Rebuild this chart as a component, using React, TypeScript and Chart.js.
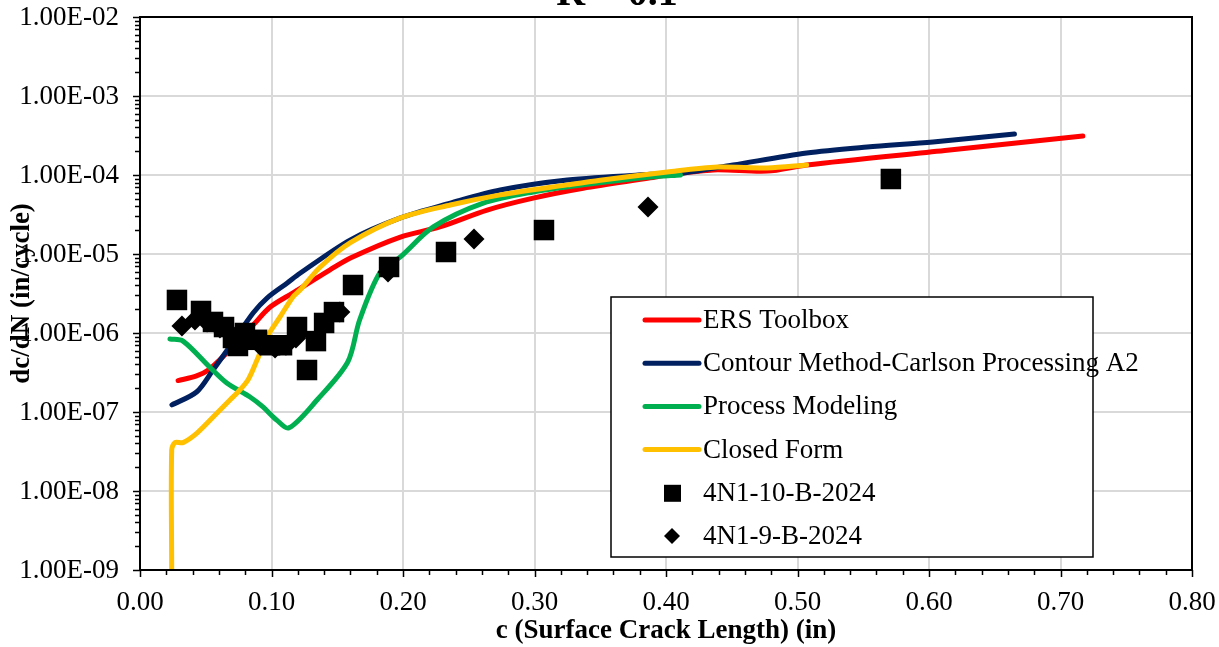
import React, { useEffect, useRef } from "react";
import { Chart, registerables } from "chart.js";

Chart.register(...registerables);

// ERS Toolbox prediction
const ersC = [0.029, 0.043, 0.052, 0.066, 0.086, 0.099, 0.116, 0.1445, 0.16, 0.198, 0.228, 0.264, 0.299, 0.337, 0.388, 0.401, 0.436, 0.477, 0.507, 0.612, 0.717];
const ersRate = [2.5e-7, 2.86e-7, 3.4e-7, 5.6e-7, 1.26e-6, 2.13e-6, 3.2e-6, 6.3e-6, 8.9e-6, 1.64e-5, 2.2e-5, 3.6e-5, 5.1e-5, 6.8e-5, 9.2e-5, 1.0e-4, 1.16e-4, 1.12e-4, 1.34e-4, 2.04e-4, 3.12e-4];

// Contour Method-Carlson Processing A2 prediction
const contourC = [0.0243, 0.043, 0.0555, 0.068, 0.086, 0.0966, 0.112, 0.1217, 0.1597, 0.198, 0.236, 0.274, 0.325, 0.388, 0.411, 0.451, 0.507, 0.553, 0.603, 0.665];
const contourRate = [1.23e-7, 1.79e-7, 3.4e-7, 6.65e-7, 1.79e-6, 2.77e-6, 4.3e-6, 5.7e-6, 1.5e-5, 2.86e-5, 4.4e-5, 6.46e-5, 8.65e-5, 1.02e-4, 1.05e-4, 1.34e-4, 1.9e-4, 2.26e-4, 2.62e-4, 3.3e-4];

// Process Modeling prediction
const processC = [0.0228, 0.0327, 0.053, 0.066, 0.0837, 0.0935, 0.104, 0.1133, 0.1346, 0.158, 0.167, 0.1825, 0.198, 0.223, 0.261, 0.299, 0.337, 0.388, 0.411];
const processRate = [8.4e-7, 7.9e-7, 3.7e-7, 2.33e-7, 1.55e-7, 1.16e-7, 7.9e-8, 6.3e-8, 1.42e-7, 4.3e-7, 1.46e-6, 5.8e-6, 9.2e-6, 2.2e-5, 4.4e-5, 6.1e-5, 7.5e-5, 9.4e-5, 1.0e-4];

// Closed Form prediction
const closedC = [0.0241, 0.0241, 0.0266, 0.0327, 0.0433, 0.0586, 0.0684, 0.0738, 0.0821, 0.089, 0.0966, 0.1065, 0.1163, 0.1217, 0.1369, 0.1597, 0.198, 0.236, 0.274, 0.325, 0.35, 0.401, 0.439, 0.477, 0.507];
const closedRate = [1e-9, 3.3e-8, 4.1e-8, 4.1e-8, 5.4e-8, 9.7e-8, 1.42e-7, 1.74e-7, 2.54e-7, 4.55e-7, 8.9e-7, 1.6e-6, 2.86e-6, 3.5e-6, 6.8e-6, 1.38e-5, 2.86e-5, 4.17e-5, 5.6e-5, 7.5e-5, 8.6e-5, 1.09e-4, 1.26e-4, 1.23e-4, 1.34e-4];

// Test specimen 4N1-10-B-2024
const spec10C = [0.0281, 0.0464, 0.0555, 0.0639, 0.0707, 0.0745, 0.0798, 0.089, 0.0989, 0.108, 0.1194, 0.127, 0.1338, 0.14, 0.1475, 0.162, 0.1894, 0.2327, 0.3072, 0.571];
const spec10Rate = [2.62e-6, 1.9e-6, 1.38e-6, 1.19e-6, 8.65e-7, 6.85e-7, 1.0e-6, 8.2e-7, 7.0e-7, 7.0e-7, 1.19e-6, 3.4e-7, 7.9e-7, 1.34e-6, 1.84e-6, 4.05e-6, 6.85e-6, 1.06e-5, 2.01e-5, 8.9e-5];

// Test specimen 4N1-9-B-2024
const spec9C = [0.0319, 0.0418, 0.051, 0.0608, 0.0715, 0.0913, 0.1027, 0.111, 0.1186, 0.152, 0.1886, 0.254, 0.3863];
const spec9Rate = [1.23e-6, 1.46e-6, 1.38e-6, 1.16e-6, 8.9e-7, 7.0e-7, 6.46e-7, 7.0e-7, 8.65e-7, 1.84e-6, 5.9e-6, 1.55e-5, 3.93e-5];

const seriesNames = ["ERS Toolbox", "Contour Method-Carlson Processing A2", "Process Modeling", "Closed Form", "4N1-10-B-2024", "4N1-9-B-2024"];
const seriesColors = ["#ff0000", "#002060", "#00b050", "#ffc000", "#000000", "#000000"];

const xTickValues = [0, 0.1, 0.2, 0.3, 0.4, 0.5, 0.6, 0.7, 0.8];
const xTickLabels = ["0.00", "0.10", "0.20", "0.30", "0.40", "0.50", "0.60", "0.70", "0.80"];
const yTickValues = [1e-9, 1e-8, 1e-7, 1e-6, 1e-5, 1e-4, 1e-3, 1e-2];
const yTickLabels = ["1.00E-09", "1.00E-08", "1.00E-07", "1.00E-06", "1.00E-05", "1.00E-04", "1.00E-03", "1.00E-02"];

const chartTitle = "R = 0.1";
const xTitle = "c (Surface Crack Length) (in)";
const yTitle = "dc/dN (in/cycle)";

const SERIF = "'Liberation Serif', 'Times New Roman', serif";

const pts = (xs: number[], ys: number[]) => xs.map((x, i) => ({ x, y: ys[i] }));

// Frame, tick marks, tick labels, titles and the boxed legend
const decorations = {
  id: "decorations",
  afterDraw(chart: any) {
    const { ctx, chartArea: a, scales } = chart;
    const xs = scales.x;
    const ys = scales.y;
    ctx.save();
    ctx.strokeStyle = "#000";
    ctx.lineWidth = 2;
    ctx.strokeRect(a.left, a.top, a.right - a.left, a.bottom - a.top);

    // x tick marks: major every 0.1, minor every 0.02
    ctx.lineWidth = 1.5;
    ctx.beginPath();
    for (let i = 0; i <= 40; i++) {
      const v = i * 0.02;
      const px = Math.round(xs.getPixelForValue(v)) + 0.5;
      const len = i % 5 === 0 ? 7 : 5;
      ctx.moveTo(px, a.bottom);
      ctx.lineTo(px, a.bottom + len);
    }
    // y tick marks: decades and 2..9 in between
    for (let d = -9; d <= -2; d++) {
      for (let k = 1; k <= 9; k++) {
        if (d === -2 && k > 1) break;
        const v = k * Math.pow(10, d);
        const py = Math.round(ys.getPixelForValue(v)) + 0.5;
        const len = k === 1 ? 7 : 5;
        ctx.moveTo(a.left - len, py);
        ctx.lineTo(a.left, py);
      }
    }
    ctx.stroke();

    // tick labels
    ctx.fillStyle = "#000";
    ctx.font = `27px ${SERIF}`;
    ctx.textBaseline = "middle";
    ctx.textAlign = "center";
    xTickValues.forEach((v, i) => {
      ctx.fillText(xTickLabels[i], xs.getPixelForValue(v), a.bottom + 33);
    });
    ctx.textAlign = "right";
    yTickValues.forEach((v, i) => {
      ctx.fillText(yTickLabels[i], a.left - 21, ys.getPixelForValue(v) + 1);
    });

    // titles
    ctx.font = `bold 27px ${SERIF}`;
    ctx.textAlign = "center";
    ctx.fillText(xTitle, (a.left + a.right) / 2, 631);
    ctx.save();
    ctx.translate(22, (a.top + a.bottom) / 2);
    ctx.rotate(-Math.PI / 2);
    ctx.fillText(yTitle, 0, 0);
    ctx.restore();

    ctx.font = `bold 40px ${SERIF}`;
    ctx.textBaseline = "alphabetic";
    ctx.fillText(chartTitle, 617, 5);

    // legend box
    const bx = 611, by = 297, bw = 482, bh = 260;
    ctx.fillStyle = "#fff";
    ctx.fillRect(bx, by, bw, bh);
    ctx.strokeStyle = "#000";
    ctx.lineWidth = 1.5;
    ctx.strokeRect(bx, by, bw, bh);
    ctx.font = `27px ${SERIF}`;
    ctx.textAlign = "left";
    ctx.textBaseline = "middle";
    chart.data.datasets.forEach((ds: any, i: number) => {
      const ry = by + 23 + i * 43.2;
      if (ds.showLine) {
        ctx.strokeStyle = ds.borderColor;
        ctx.lineWidth = 5;
        ctx.lineCap = "round";
        ctx.beginPath();
        ctx.moveTo(645, ry);
        ctx.lineTo(699, ry);
        ctx.stroke();
      } else {
        ctx.fillStyle = "#000";
        ctx.beginPath();
        if (ds.pointStyle === "rect") {
          ctx.rect(664, ry - 8, 17, 17);
        } else {
          ctx.moveTo(672, ry - 8);
          ctx.lineTo(680, ry);
          ctx.lineTo(672, ry + 8);
          ctx.lineTo(664, ry);
          ctx.closePath();
        }
        ctx.fill();
      }
      ctx.fillStyle = "#000";
      ctx.fillText(ds.label, 703, ry + 1);
    });
    ctx.restore();
  },
};

export default function App() {
  const ref = useRef<HTMLCanvasElement>(null);

  useEffect(() => {
    if (!ref.current) return;
    const lineDs = (i: number, data: any[], order: number) => ({
      label: seriesNames[i],
      data,
      showLine: true,
      borderColor: seriesColors[i],
      backgroundColor: seriesColors[i],
      borderWidth: 5,
      borderCapStyle: "round",
      borderJoinStyle: "round",
      pointRadius: 0,
      tension: 0.3,
      order,
    });
    const chart = new Chart(ref.current, {
      type: "scatter",
      data: {
        datasets: [
          lineDs(0, pts(ersC, ersRate), 5),
          lineDs(1, pts(contourC, contourRate), 4),
          lineDs(2, pts(processC, processRate), 3),
          lineDs(3, pts(closedC, closedRate), 2),
          {
            label: seriesNames[4],
            data: pts(spec10C, spec10Rate),
            showLine: false,
            pointStyle: "rect",
            pointRadius: 14.5,
            backgroundColor: "#000",
            borderColor: "#000",
            borderWidth: 0,
            order: 1,
          },
          {
            label: seriesNames[5],
            data: pts(spec9C, spec9Rate),
            showLine: false,
            pointStyle: "rectRot",
            pointRadius: 10.5,
            backgroundColor: "#000",
            borderColor: "#000",
            borderWidth: 0,
            order: 0,
          },
        ] as any,
      },
      plugins: [decorations],
      options: {
        animation: false,
        responsive: false,
        devicePixelRatio: 1,
        layout: { padding: { top: 17, right: 27, left: 0, bottom: 0 } },
        plugins: { legend: { display: false }, tooltip: { enabled: false }, title: { display: false } },
        scales: {
          x: {
            type: "linear",
            min: 0,
            max: 0.8,
            afterBuildTicks: (s: any) => {
              s.ticks = xTickValues.map((v) => ({ value: v }));
            },
            afterFit: (s: any) => {
              s.height = 77;
            },
            ticks: { display: false },
            grid: { color: "#d9d9d9", lineWidth: 2, drawTicks: false },
            border: { display: false },
          },
          y: {
            type: "logarithmic",
            min: 1e-9,
            max: 1e-2,
            afterBuildTicks: (s: any) => {
              s.ticks = yTickValues.map((v) => ({ value: v }));
            },
            afterFit: (s: any) => {
              s.width = 140;
            },
            ticks: { display: false },
            grid: { color: "#d9d9d9", lineWidth: 2, drawTicks: false },
            border: { display: false },
          },
        },
      } as any,
    });
    return () => chart.destroy();
  }, []);

  return (
    <div style={{ position: "fixed", left: 0, top: 0, width: 1219, height: 647, background: "#fff" }}>
      <canvas ref={ref} width={1219} height={647} style={{ width: 1219, height: 647, display: "block" }} />
    </div>
  );
}
